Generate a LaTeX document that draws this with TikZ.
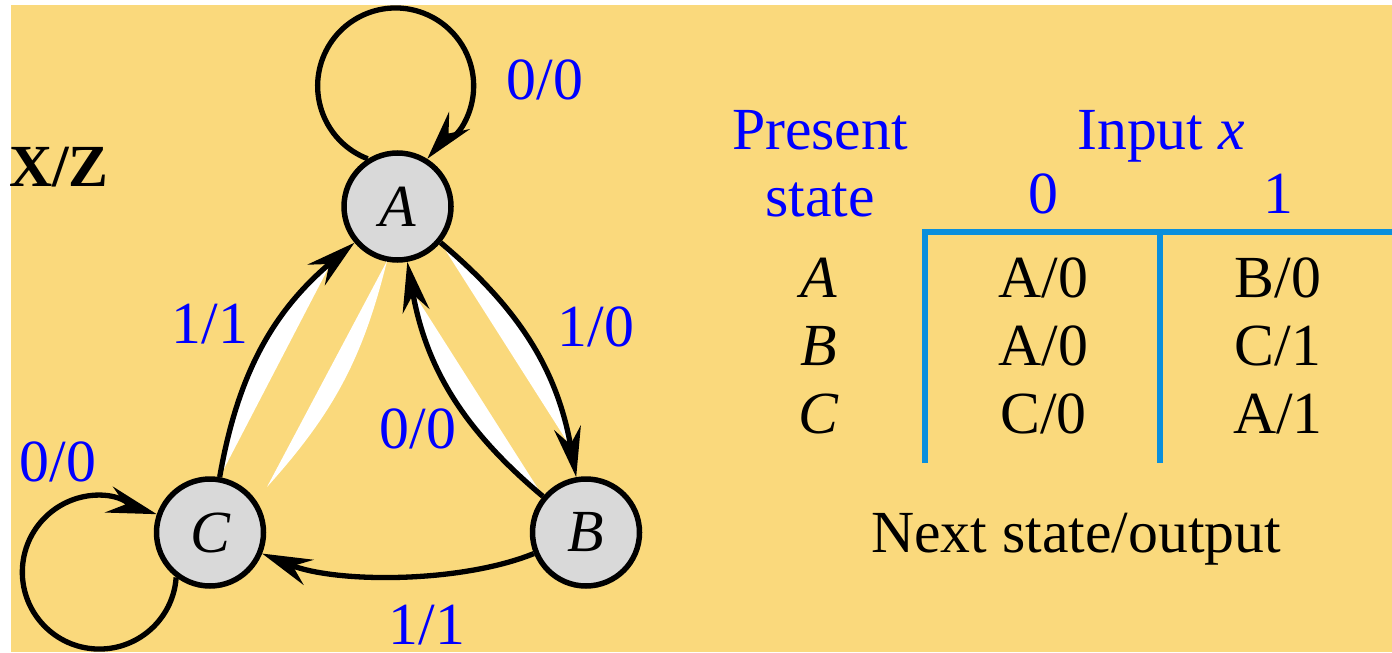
\documentclass[tikz,border=0pt]{standalone}
\usepackage{fontspec}
\setmainfont{Liberation Serif}
\usepackage{xcolor}
\usetikzlibrary{arrows.meta}
\definecolor{PY}{HTML}{FAD97C}
\definecolor{PG}{HTML}{D9D9D9}
\definecolor{PT}{HTML}{0A8FDC}
\definecolor{PL}{HTML}{0000FF}

\begin{document}
\begin{tikzpicture}[
    font=\fontsize{17}{20}\selectfont,
    fsm/.style={circle, draw=black, fill=PG,
          line width=0.055cm, minimum size=1.07cm,
          inner sep=0pt, font=\fontsize{17}{20}\selectfont\itshape},
    trans/.style={line width=0.053cm,
          -{Stealth[length=0.5cm, width=0.27cm, inset=0.17cm]}},
    lbl/.style={text=PL, inner sep=0pt},
    cell/.style={anchor=base, inner sep=0pt},
    rule/.style={draw=PT, line width=0.055cm}
  ]
    \useasboundingbox (0,0) rectangle (13.92,6.52);
    \fill[PY] (0.11,0) rectangle (13.92,6.47);

    \node[fsm] (A) at (3.975,4.455) {A};
    \node[fsm] (C) at (2.10,1.195) {C};
    \node[fsm] (B) at (5.86,1.195) {B};

    \coordinate (lensTop) at (3.87,3.91);
    \coordinate (lensBot) at (2.67,1.65);
    \fill[white] (lensTop) to[bend left=14] (lensBot) -- cycle;

    \draw[trans] (A.122) arc[start angle=249, end angle=-30, radius=0.78]
      to[out=240, in=50] (A.58);
    \draw[trans, fill=white] (A) to[bend left=20] (B);
    \draw[trans, fill=white] (B) to[bend left=20] (A);
    \draw[trans, fill=white] (C) to[bend left=20] (A);
    \draw[trans] (B) to[bend left=22, looseness=0.75] (C);
    \draw[trans] (C.233) arc[start angle=-4, end angle=-270, radius=0.77]
      to[out=0, in=163] (C.161);

    \node[inner sep=0pt, font=\fontsize{17}{20}\selectfont\bfseries] (xz) at (0.59,4.85) {X/Z};
    \node[lbl] (lAA) at (5.45,5.72) {0/0};
    \node[lbl] (lCA) at (2.10,3.28) {1/1};
    \node[lbl] (lAB) at (5.96,3.25) {1/0};
    \node[lbl] (lBA) at (4.18,2.23) {0/0};
    \node[lbl] (lCC) at (0.58,1.90) {0/0};
    \node[lbl] (lBC) at (4.27,0.27) {1/1};

    \node[cell, text=PL] (present) at (8.20,5.02) {Present};
    \node[cell, text=PL] (pstate) at (8.20,4.35) {state};
    \node[cell, text=PL] (input) at (11.61,5.02) {Input \textit{x}};
    \node[cell, text=PL] (in0) at (10.43,4.39) {0};
    \node[cell, text=PL] (in1) at (12.78,4.39) {1};

    \draw[rule] (9.25,1.89) |- (13.92,4.20);
    \draw[rule] (11.60,4.20) -- (11.60,1.89);

    \foreach \s/\na/\oa/\nb/\ob/\y in {A/A/0/B/0/3.55, B/A/0/C/1/2.87, C/C/0/A/1/2.19} {
      \node[cell] (ps\s) at (8.19,\y) {\textit{\s}};
      \node[cell] (nx\s) at (10.435,\y) {\na/\oa};
      \node[cell] (ny\s) at (12.78,\y) {\nb/\ob};
    }

    \node[cell] (next) at (10.76,1.00) {Next state/output};
  \end{tikzpicture}
\end{document}
